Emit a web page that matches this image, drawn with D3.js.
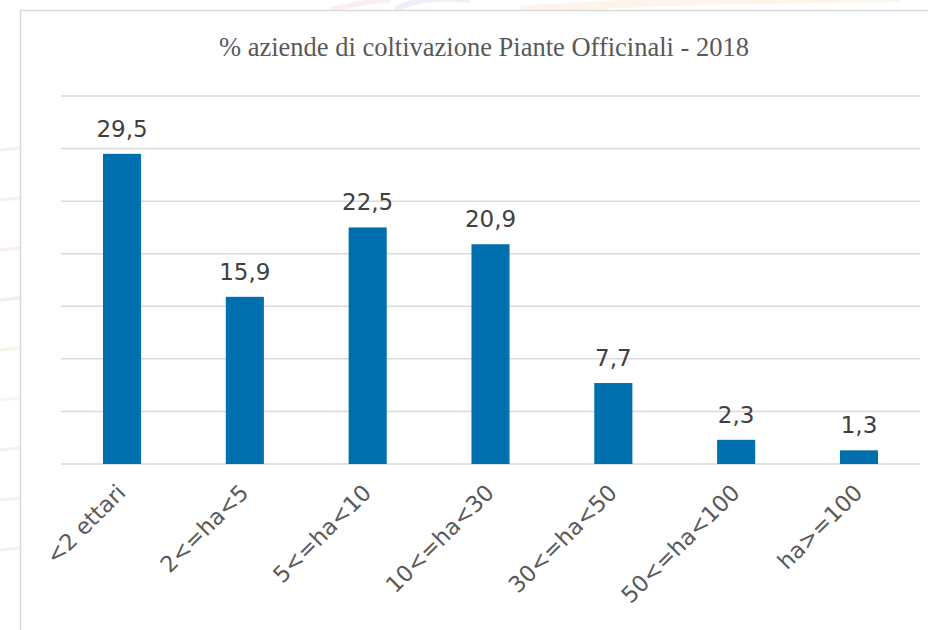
<!DOCTYPE html>
<html>
<head>
<meta charset="utf-8">
<script src="https://cdn.jsdelivr.net/npm/d3@7"></script>
<style>
    body { margin: 0; background: #ffffff; }
    svg { display: block; }
</style>
</head>
<body>
<div id="chart"></div>
<script>
// dati del grafico
var categories = ["<2 ettari", "2<=ha<5", "5<=ha<10", "10<=ha<30", "30<=ha<50", "50<=ha<100", "ha>=100"];
var values = [29.5, 15.9, 22.5, 20.9, 7.7, 2.3, 1.3];
var valueLabels = ["29,5", "15,9", "22,5", "20,9", "7,7", "2,3", "1,3"];
var yTicks = [0, 5, 10, 15, 20, 25, 30, 35];
var title = "% aziende di coltivazione Piante Officinali - 2018";

var WIDTH = 928, HEIGHT = 630;

var svg = d3.select("#chart").append("svg")
    .attr("width", WIDTH)
    .attr("height", HEIGHT);

// sfondo sbiadito fuori dal riquadro
var bg = svg.append("g").attr("id", "background").attr("opacity", 0.6);
var stripeColors = ["#f3e3ea", "#e3eaf3", "#f6e6df", "#e6e3f1", "#f6ecdc", "#eef3df", "#e3eef2", "#e9f2e6", "#e4e9f0"];
bg.selectAll("path.stripe")
    .data(stripeColors).enter()
    .append("path")
    .attr("class", "stripe")
    .attr("d", function (d, i) {
        var y = 150 + i * 50;
        return "M0," + y + " Q10," + (y - 1) + " 20," + (y - 2);
    })
    .attr("fill", "none")
    .attr("stroke", function (d) { return d; })
    .attr("stroke-width", 3);
bg.append("path")
    .attr("d", "M395,10 Q420,-5 470,0")
    .attr("fill", "none").attr("stroke", "#e4e6f4").attr("stroke-width", 6);
bg.append("path")
    .attr("d", "M520,10 Q650,0 900,-2")
    .attr("fill", "none").attr("stroke", "#fbeede").attr("stroke-width", 8);
bg.append("path")
    .attr("d", "M330,10 Q360,2 390,0")
    .attr("fill", "none").attr("stroke", "#f7e6e6").attr("stroke-width", 5);

// riquadro del grafico
svg.append("rect")
    .attr("x", 20.5).attr("y", 10.5)
    .attr("width", 940).attr("height", 640)
    .attr("fill", "#ffffff")
    .attr("stroke", "#d9d9d9")
    .attr("stroke-width", 1.5);

var x = d3.scaleBand()
    .domain(categories)
    .range([60.6, 920.4])
    .paddingInner(0.69)
    .paddingOuter(0.345);

var y = d3.scaleLinear()
    .domain([0, 35])
    .range([464, 96]);

// griglia
svg.append("g").attr("id", "grid")
    .selectAll("line")
    .data(yTicks).enter()
    .append("line")
    .attr("x1", 61).attr("x2", 920)
    .attr("y1", function (d) { return y(d); })
    .attr("y2", function (d) { return y(d); })
    .attr("stroke", "#d9d9d9")
    .attr("stroke-width", 1.5);

// barre
var data = categories.map(function (c, i) {
    return { cat: c, value: values[i], label: valueLabels[i] };
});

svg.append("g").attr("id", "bars")
    .selectAll("rect")
    .data(data).enter()
    .append("rect")
    .attr("x", function (d) { return x(d.cat); })
    .attr("y", function (d) { return y(d.value); })
    .attr("width", x.bandwidth())
    .attr("height", function (d) { return y(0) - y(d.value); })
    .attr("fill", "#006fad");

// etichette dei valori
svg.append("g").attr("id", "values")
    .selectAll("text")
    .data(data).enter()
    .append("text")
    .attr("x", function (d) { return x(d.cat) + x.bandwidth() / 2; })
    .attr("y", function (d) { return y(d.value) - 17; })
    .attr("text-anchor", "middle")
    .style("font-family", "'DejaVu Sans', Verdana, sans-serif")
    .style("font-size", "23px")
    .style("fill", "#404040")
    .text(function (d) { return d.label; });

// etichette delle categorie ruotate
svg.append("g").attr("id", "categories")
    .selectAll("text")
    .data(categories).enter()
    .append("text")
    .attr("transform", function (d) {
        var cx = x(d) + x.bandwidth() / 2;
        return "translate(" + (cx + 5) + ",494) rotate(-45)";
    })
    .attr("text-anchor", "end")
    .style("font-family", "'DejaVu Sans', Verdana, sans-serif")
    .style("font-size", "22.5px")
    .style("fill", "#595959")
    .text(function (d) { return d; });

// titolo
svg.append("text")
    .attr("x", 484)
    .attr("y", 56)
    .attr("text-anchor", "middle")
    .style("font-family", "'Liberation Serif', 'Times New Roman', serif")
    .style("font-size", "26.5px")
    .style("fill", "#595959")
    .text(title);
</script>
</body>
</html>
